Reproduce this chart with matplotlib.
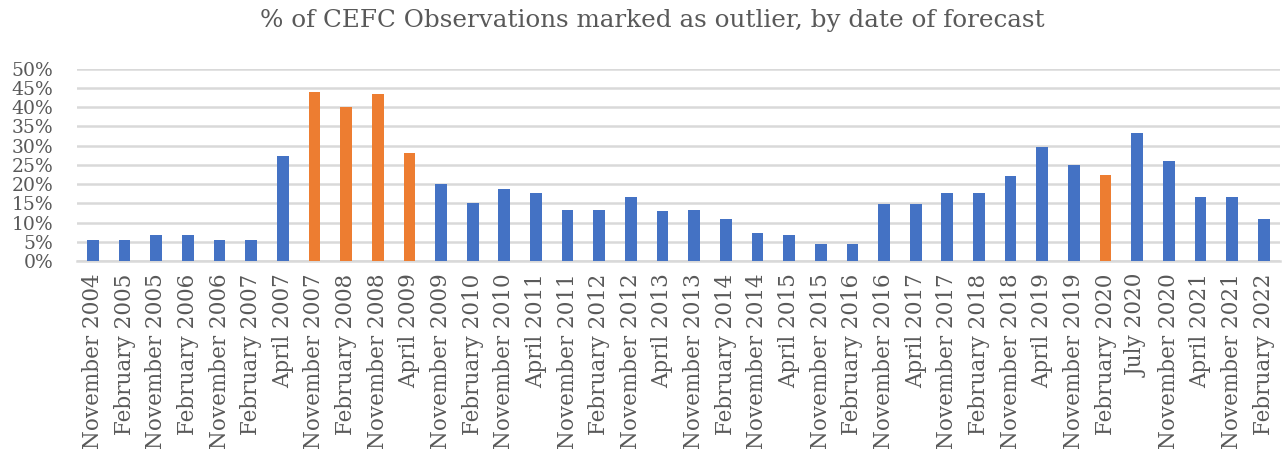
import matplotlib.pyplot as plt

# Data
dates = ['November 2004', 'February 2005', 'November 2005', 'February 2006', 'November 2006',
         'February 2007', 'April 2007', 'November 2007', 'February 2008', 'November 2008',
         'April 2009', 'November 2009', 'February 2010', 'November 2010', 'April 2011',
         'November 2011', 'February 2012', 'November 2012', 'April 2013', 'November 2013',
         'February 2014', 'November 2014', 'April 2015', 'November 2015', 'February 2016',
         'November 2016', 'April 2017', 'November 2017', 'February 2018', 'November 2018',
         'April 2019', 'November 2019', 'February 2020', 'July 2020', 'November 2020',
         'April 2021', 'November 2021', 'February 2022']
pct_outlier = [5.5, 5.5, 6.7, 6.7, 5.5, 5.5, 27.3, 44.1, 40.2, 43.4,
               28.0, 20.1, 15.0, 18.7, 17.7, 13.3, 13.3, 16.6, 13.0, 13.3,
               11.0, 7.4, 6.7, 4.4, 4.4, 14.9, 14.9, 17.7, 17.7, 22.1,
               29.7, 24.9, 22.4, 33.2, 25.9, 16.6, 16.6, 11.0]
highlighted = ['November 2007', 'February 2008', 'November 2008', 'April 2009', 'February 2020']

blue = '#4472C4'
orange = '#ED7D31'
text_grey = '#595959'
colors = [orange if d in highlighted else blue for d in dates]

plt.rcParams['font.family'] = 'DejaVu Serif'

fig = plt.figure(figsize=(12.86, 4.53), dpi=100)
ax = fig.add_axes([0.060, 0.424, 0.935, 0.424])

x = range(len(dates))
ax.bar(x, [v / 100 for v in pct_outlier], width=0.37, color=colors, zorder=3)

ax.set_xlim(-0.5, len(dates) - 0.5)
ax.set_ylim(0, 0.5)
ax.set_yticks([i * 0.05 for i in range(11)])
ax.set_yticklabels([f'{i * 5}%' for i in range(11)], fontsize=13.5, color=text_grey)
ax.set_xticks(list(x))
ax.set_xticklabels(dates, rotation=90, fontsize=15.5, color=text_grey)
ax.tick_params(axis='both', length=0)
ax.tick_params(axis='x', pad=9)
ax.tick_params(axis='y', pad=17)

ax.yaxis.grid(True, color='#D9D9D9', linewidth=1.8, zorder=0)
for s in ['top', 'right', 'left']:
    ax.spines[s].set_visible(False)
ax.spines['bottom'].set_color('#D9D9D9')
ax.spines['bottom'].set_linewidth(1.8)

fig.text(0.507, 0.955, '% of CEFC Observations marked as outlier, by date of forecast',
         ha='center', va='center', fontsize=17.7, color=text_grey)

plt.savefig('out.png', dpi=100)
